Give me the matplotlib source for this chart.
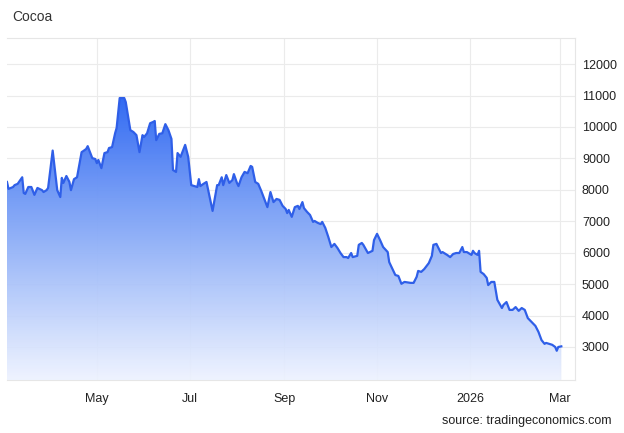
import datetime as dt
import numpy as np
import matplotlib.pyplot as plt
import matplotlib.dates as mdates
from matplotlib.colors import LinearSegmentedColormap

plt.rcParams['font.family'] = ['Liberation Sans', 'DejaVu Sans']

title = "Cocoa"
source = "source: tradingeconomics.com"
start = dt.date(2025, 3, 3)

# trading days, counted from 3 Mar 2025, and price (USD/t)
days = [0, 1, 4, 5, 7, 10, 11, 12, 14, 16, 18, 20, 23, 24, 26, 27, 30, 33, 35, 36,
        37, 39, 41, 42, 44, 46, 49, 50, 52, 53, 56, 58, 59, 60, 62, 64, 66, 67, 69, 71,
        72, 74, 77, 78, 81, 83, 85, 87, 89, 90, 92, 94, 96, 97, 98, 100, 102, 104, 106, 108,
        109, 111, 112, 114, 117, 119, 121, 123, 125, 126, 127, 129, 131, 135, 138, 139, 141, 142, 144, 146,
        148, 149, 151, 152, 154, 156, 158, 160, 161, 163, 165, 167, 171, 173, 175, 177, 179, 181, 183, 184,
        185, 187, 189, 191, 192, 194, 195, 197, 199, 201, 202, 204, 206, 207, 209, 211, 213, 215, 217, 219,
        221, 223, 224, 226, 227, 230, 231, 233, 234, 237, 240, 241, 243, 245, 247, 250, 251, 255, 257, 259,
        261, 265, 267, 269, 270, 272, 274, 276, 277, 279, 280, 282, 283, 285, 286, 289, 291, 293, 295, 297,
        299, 300, 302, 303, 305, 306, 307, 309, 310, 311, 313, 315, 316, 318, 320, 322, 325, 326, 328, 330,
        332, 334, 336, 338, 340, 342, 345, 347, 349, 351, 353, 354, 356, 358, 360, 361, 362, 364]
prices = [8250, 8030, 8090, 8150, 8190, 8400, 7900, 7870, 8090, 8090, 7840, 8060, 7990, 7930, 7990, 8060, 9250, 7990, 7770, 8380,
          8220, 8440, 8250, 7990, 8340, 8400, 9200, 9230, 9300, 9390, 9010, 8980, 8850, 8950, 8690, 9170, 9200, 9330, 9360, 9800,
          9970, 10920, 10920, 10790, 9900, 9840, 9740, 9200, 9740, 9680, 9800, 10120, 10160, 10190, 9580, 9780, 9800, 10090, 9900, 9620,
          8630, 8570, 9170, 9050, 9430, 9050, 8150, 8120, 8090, 8340, 8120, 8190, 8250, 7330, 8150, 8150, 8400, 8150, 8470, 8220,
          8310, 8500, 8220, 8120, 8400, 8570, 8530, 8760, 8730, 8250, 8190, 7960, 7450, 7930, 7610, 7710, 7680, 7490, 7390, 7260,
          7360, 7140, 7450, 7490, 7390, 7610, 7420, 7300, 7200, 6980, 7010, 6950, 6910, 6980, 6790, 6500, 6180, 6280, 6150, 5990,
          5860, 5860, 5830, 5990, 5860, 5900, 6250, 6310, 6250, 5990, 6060, 6400, 6600, 6400, 6180, 6020, 5700, 5290, 5260, 5010,
          5070, 5040, 5040, 5230, 5420, 5390, 5480, 5610, 5670, 5900, 6250, 6280, 6180, 5990, 6020, 5930, 5860, 5960, 5990, 5990,
          6180, 6020, 6020, 5990, 5930, 6060, 5990, 5930, 6060, 5390, 5320, 5200, 4970, 5070, 5070, 4500, 4240, 4340, 4430, 4180,
          4180, 4270, 4150, 4240, 4180, 3920, 3770, 3670, 3480, 3220, 3100, 3130, 3100, 3070, 3000, 2880, 3000, 3020]

tick_dates = ["2025-05-01", "2025-07-01", "2025-09-01", "2025-11-01", "2026-01-01", "2026-03-01"]
tick_labels = ["May", "Jul", "Sep", "Nov", "2026", "Mar"]
y_ticks = [3000, 4000, 5000, 6000, 7000, 8000, 9000, 10000, 11000, 12000]

dates = [start + dt.timedelta(days=d) for d in days]
x = mdates.date2num(dates)
y = np.array(prices)

fig = plt.figure(figsize=(6.24, 4.33), dpi=100)
ax = fig.add_axes([0.0112, 0.1224, 0.9103, 0.7898])

ymin, ymax = 1950, 12830
xmin = mdates.date2num(start)
xmax = mdates.date2num(dt.date(2026, 3, 11))

# gradient fill under the line
cmap = LinearSegmentedColormap.from_list(
    "fade", [(0.93, 0.95, 1.0, 0.9), (0.55, 0.68, 0.97, 0.95), (0.2, 0.42, 0.95, 1.0)])
grad = np.linspace(0, 1, 256).reshape(-1, 1)
poly = ax.fill_between(x, y, ymin, color="none", lw=0)
img = ax.imshow(grad, cmap=cmap, aspect="auto", origin="lower",
                extent=[x[0], x[-1], ymin, y.max()], zorder=1)
img.set_clip_path(poly.get_paths()[0], transform=ax.transData)
ax.plot(x, y, color="#2f5fe8", lw=1.6, zorder=3)

ax.set_xlim(xmin, xmax)
ax.set_ylim(ymin, ymax)

ax.set_xticks(mdates.date2num([dt.date.fromisoformat(d) for d in tick_dates]))
ax.set_xticklabels(tick_labels)
ax.set_yticks(y_ticks)
ax.yaxis.tick_right()
ax.tick_params(axis="both", length=0, labelsize=9, colors="#222222")
ax.tick_params(axis="x", pad=9)
ax.tick_params(axis="y", pad=5)
for lab in ax.get_yticklabels():
    lab.set_horizontalalignment("left")
ax.grid(True, color="#ebebeb", lw=0.8, zorder=0)
ax.set_axisbelow(True)
ax.spines["left"].set_visible(False)
for side in ["top", "bottom", "right"]:
    ax.spines[side].set_color("#e6e6e6")
    ax.spines[side].set_linewidth(0.8)

fig.text(12 / 624, 1 - 17 / 433, title, fontsize=10, color="#333333", va="center", ha="left")
fig.text(612 / 624, 1 - 421 / 433, source, fontsize=9, color="#222222", va="center", ha="right")

fig.savefig("out.png", dpi=100)
